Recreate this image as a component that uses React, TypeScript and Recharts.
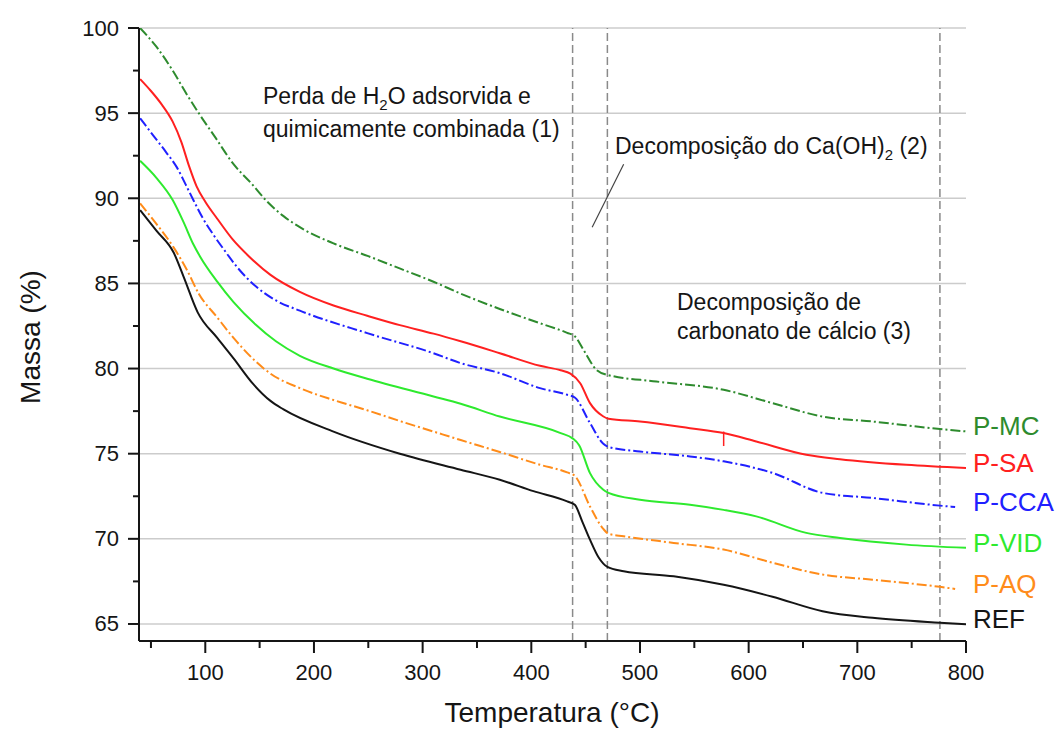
import { LineChart, Line, XAxis, YAxis, ReferenceLine, ReferenceDot, Customized } from "recharts";

const FONT = "'Liberation Sans', Arial, Helvetica, sans-serif";
const INK = "#151515";

// curvas TG: [temperatura °C, massa %]
const P_MC: [number, number][] = [
  [40, 100], [55, 98.9], [70, 97.5], [83, 96.1], [95, 94.9], [110, 93.5], [126, 92.0], [142, 90.9], [157, 89.8],
  [172, 88.95], [187, 88.3], [218, 87.35], [250, 86.6], [280, 85.85], [310, 85.1], [335, 84.4], [371, 83.5],
  [408, 82.66], [433, 82.1], [440, 81.9], [448, 81.1], [460, 79.92], [470, 79.63], [515, 79.24], [577, 78.75],
  [622, 77.97], [668, 77.18], [714, 76.89], [776, 76.45], [800, 76.31],
];
const P_SA: [number, number][] = [
  [40, 97.0], [50, 96.3], [60, 95.5], [70, 94.5], [78, 93.3], [85, 91.9], [92, 90.7], [100, 89.8], [111, 88.8],
  [125, 87.6], [140, 86.6], [160, 85.5], [187, 84.5], [218, 83.7], [249, 83.1], [279, 82.55], [310, 82.05],
  [335, 81.6], [371, 80.9], [408, 80.16], [427, 79.9], [436, 79.7], [445, 79.14], [454, 77.97], [466, 77.2],
  [471, 77.05], [500, 76.89], [546, 76.5], [577, 76.21], [607, 75.72], [653, 74.94], [684, 74.68], [745, 74.35],
  [800, 74.16],
];
const P_CCA: [number, number][] = [
  [40, 94.7], [52, 93.7], [64, 92.7], [74, 91.8], [82, 90.8], [89, 89.9], [98, 88.8], [107, 87.9], [117, 87.0],
  [130, 85.9], [147, 84.8], [165, 84.0], [187, 83.4], [249, 82.08], [310, 80.9], [335, 80.32], [371, 79.73],
  [408, 78.85], [433, 78.46], [440, 78.3], [454, 76.8], [466, 75.6], [471, 75.4], [500, 75.13], [546, 74.84],
  [577, 74.55], [622, 73.87], [668, 72.7], [714, 72.4], [776, 71.95], [790, 71.87],
];
const P_VID: [number, number][] = [
  [40, 92.2], [55, 91.2], [70, 89.9], [80, 88.6], [89, 87.3], [95, 86.6], [111, 85.1], [126, 83.9], [146, 82.6],
  [165, 81.6], [187, 80.75], [218, 80.0], [249, 79.4], [310, 78.36], [335, 77.93], [371, 77.18], [427, 76.21],
  [438, 75.9], [444, 75.5], [454, 73.86], [466, 72.9], [471, 72.7], [500, 72.3], [546, 72.0], [577, 71.7],
  [607, 71.32], [653, 70.35], [684, 70.05], [745, 69.66], [800, 69.47],
];
const P_AQ: [number, number][] = [
  [40, 89.7], [55, 88.5], [71, 87.1], [83, 85.8], [94, 84.4], [111, 83.0], [126, 81.8], [145, 80.5], [160, 79.7],
  [187, 78.85], [218, 78.15], [249, 77.55], [280, 76.9], [310, 76.3], [335, 75.8], [371, 75.1], [408, 74.35],
  [433, 73.9], [440, 73.7], [454, 71.9], [466, 70.6], [471, 70.3], [485, 70.15], [531, 69.76], [577, 69.37],
  [622, 68.6], [668, 67.9], [714, 67.6], [776, 67.18], [790, 67.06],
];
const REF: [number, number][] = [
  [40, 89.3], [55, 88.1], [71, 86.8], [80, 85.4], [93, 83.3], [111, 81.8], [126, 80.6], [144, 79.1], [160, 78.1],
  [172, 77.6], [218, 76.3], [279, 75.0], [335, 74.06], [371, 73.47], [402, 72.8], [433, 72.2], [440, 72.0],
  [447, 71.0], [454, 69.95], [462, 68.9], [470, 68.35], [485, 68.1], [531, 67.8], [577, 67.3], [622, 66.6],
  [668, 65.75], [714, 65.36], [776, 65.07], [800, 64.98],
];

const X_TICKS = [50, 100, 150, 200, 250, 300, 350, 400, 450, 500, 550, 600, 650, 700, 750, 800];
const Y_TICKS = [65, 67.5, 70, 72.5, 75, 77.5, 80, 82.5, 85, 87.5, 90, 92.5, 95, 97.5, 100];
const GRID_Y = [65, 70, 75, 80, 85, 90, 95, 100];
const STAGE_LIMITS = [438, 470, 776];

const SERIES = [
  { name: "P-MC", points: P_MC, color: "#2E8B2E", dash: "10 3 2 3" },
  { name: "P-SA", points: P_SA, color: "#FF2020", dash: undefined },
  { name: "P-CCA", points: P_CCA, color: "#2020FF", dash: "10 3 2 3" },
  { name: "P-VID", points: P_VID, color: "#2EEA2E", dash: undefined },
  { name: "P-AQ", points: P_AQ, color: "#FF8C1A", dash: "10 3 2 3" },
  { name: "REF", points: REF, color: "#151515", dash: undefined },
];

const toRows = (pts: [number, number][]) => pts.map(([t, m]) => ({ t, m }));

function renderXTick(props: any) {
  const { x, y, payload } = props;
  const major = payload.value % 100 === 0;
  return (
    <g>
      <line x1={x} x2={x} y1={y} y2={y + (major ? 12 : 7)} stroke={INK} strokeWidth={2} />
      {major && (
        <text x={x} y={y + 31} textAnchor="middle" dominantBaseline="central" fontSize={22} fontFamily={FONT} fill={INK}>
          {payload.value}
        </text>
      )}
    </g>
  );
}

function renderYTick(props: any) {
  const { x, y, payload } = props;
  const major = payload.value % 5 === 0;
  return (
    <g>
      <line x1={x} x2={x - (major ? 11 : 6)} y1={y} y2={y} stroke={INK} strokeWidth={2} />
      {major && (
        <text x={x - 20} y={y} textAnchor="end" dominantBaseline="central" fontSize={22} fontFamily={FONT} fill={INK}>
          {payload.value}
        </text>
      )}
    </g>
  );
}

// textos das etapas de decomposição e títulos dos eixos
function Annotations() {
  return (
    <g fontFamily={FONT} fill={INK}>
      <text x={263} y={104} fontSize={23}>
        Perda de H<tspan dy={6} fontSize={15}>2</tspan>
        <tspan dy={-6}>O adsorvida e</tspan>
      </text>
      <text x={263} y={137} fontSize={23}>quimicamente combinada (1)</text>
      <text x={615} y={154} fontSize={23}>
        Decomposição do Ca(OH)<tspan dy={6} fontSize={15}>2</tspan>
        <tspan dy={-6}> (2)</tspan>
      </text>
      <text x={677} y={310} fontSize={23}>Decomposição de</text>
      <text x={677} y={339} fontSize={23}>carbonato de cálcio (3)</text>
      <text x={552} y={722} fontSize={28} textAnchor="middle">Temperatura (°C)</text>
      <text x={40} y={337} fontSize={28} textAnchor="middle" transform="rotate(-90 40 337)">Massa (%)</text>
    </g>
  );
}

export default function App() {
  return (
    <div style={{ position: "absolute", left: 0, top: 0, background: "#fff" }}>
      <LineChart width={1057} height={730} margin={{ top: 28, right: 91, bottom: 29, left: 49 }}>
        {GRID_Y.map((v) => (
          <ReferenceLine key={`g${v}`} y={v} stroke="#cccccc" strokeWidth={1.5} />
        ))}
        {STAGE_LIMITS.map((v) => (
          <ReferenceLine key={`s${v}`} x={v} stroke="#8a8a8a" strokeWidth={1.5} strokeDasharray="8 4" />
        ))}
        <ReferenceLine segment={[{ x: 456, y: 88.3 }, { x: 485, y: 92.0 }]} stroke="#444" strokeWidth={1.2} />
        <ReferenceLine segment={[{ x: 577, y: 76.3 }, { x: 577, y: 75.45 }]} stroke="#FF2020" strokeWidth={1.5} />

        <XAxis
          type="number"
          dataKey="t"
          domain={[39, 800]}
          ticks={X_TICKS}
          interval={0}
          allowDataOverflow
          height={60}
          tickSize={0}
          tickMargin={0}
          tickLine={false}
          tick={renderXTick}
          axisLine={{ stroke: INK, strokeWidth: 2 }}
        />
        <YAxis
          type="number"
          domain={[64, 100]}
          ticks={Y_TICKS}
          interval={0}
          allowDataOverflow
          width={90}
          tickSize={0}
          tickMargin={0}
          tickLine={false}
          tick={renderYTick}
          axisLine={{ stroke: INK, strokeWidth: 2 }}
        />

        {SERIES.map((s) => (
          <Line
            key={s.name}
            data={toRows(s.points)}
            dataKey="m"
            name={s.name}
            type="monotone"
            stroke={s.color}
            strokeWidth={2}
            strokeDasharray={s.dash}
            dot={false}
            activeDot={false}
            isAnimationActive={false}
          />
        ))}

        {SERIES.map((s) => (
          <ReferenceDot
            key={`l${s.name}`}
            x={800}
            y={s.points[s.points.length - 1][1]}
            r={1}
            fill="none"
            stroke="none"
            label={{
              content: (p: any) => (
                <text
                  x={p.viewBox.x + p.viewBox.width + 6}
                  y={p.viewBox.y + p.viewBox.height / 2 - 5}
                  dominantBaseline="central"
                  fontSize={26}
                  fontFamily={FONT}
                  fill={s.color}
                >
                  {s.name}
                </text>
              ),
            }}
          />
        ))}

        <Customized component={Annotations} />
      </LineChart>
    </div>
  );
}
